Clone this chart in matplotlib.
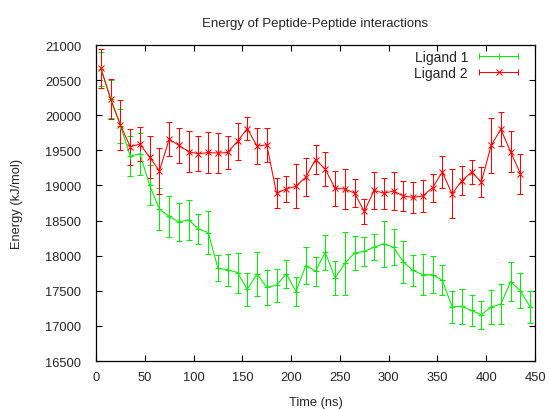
import numpy as np
import matplotlib
matplotlib.use("Agg")
import matplotlib.pyplot as plt
from matplotlib.lines import Line2D
from matplotlib.legend_handler import HandlerBase

plt.rcParams['font.family'] = ['Liberation Sans', 'DejaVu Sans']
plt.rcParams['text.color'] = '#262626'
plt.rcParams['axes.labelcolor'] = '#262626'
plt.rcParams['xtick.labelcolor'] = '#262626'
plt.rcParams['ytick.labelcolor'] = '#262626'

# time in ns
t1 = np.arange(5, 450, 10)   # Ligand 1: 5 .. 445
t2 = np.arange(5, 440, 10)   # Ligand 2: 5 .. 435

lig1 = [20660, 20230, 19850, 19420, 19450, 19000, 18660, 18560, 18480, 18510,
        18380, 18330, 17820, 17800, 17760, 17520, 17740, 17550, 17580, 17740,
        17490, 17860, 17780, 18050, 17680, 17890, 18040, 18060, 18120, 18170,
        18120, 17910, 17790, 17730, 17730, 17650, 17270, 17280, 17220, 17160,
        17270, 17310, 17630, 17500, 17270]
err1 = [240, 270, 240, 280, 300, 285, 300, 290, 270, 290,
        215, 300, 185, 225, 285, 230, 315, 250, 235, 200,
        210, 270, 205, 250, 240, 450, 240, 205, 185, 325,
        255, 295, 215, 290, 260, 215, 230, 250, 225, 200,
        240, 280, 280, 250, 230]

lig2 = [20670, 20230, 19860, 19550, 19590, 19400, 19210, 19660, 19570, 19480,
        19450, 19470, 19460, 19470, 19630, 19810, 19560, 19580, 18890, 18950,
        18990, 19120, 19370, 19230, 18960, 18950, 18890, 18630, 18930, 18890,
        18920, 18850, 18830, 18850, 18970, 19190, 18880, 19070, 19190, 19050,
        19570, 19800, 19480, 19170]
err2 = [280, 290, 360, 255, 240, 300, 330, 245, 255, 295,
        250, 290, 285, 240, 260, 165, 260, 240, 215, 185,
        310, 270, 210, 240, 250, 280, 200, 180, 265, 220,
        270, 215, 225, 230, 200, 225, 350, 210, 170, 220,
        390, 240, 290, 285]

LW = 0.75


class HandlerErrLine(HandlerBase):
    """horizontal legend sample with end caps and a marker in the middle"""
    def __init__(self, color, marker):
        super().__init__()
        self.color = color
        self.marker = marker

    def create_artists(self, legend, orig_handle, xdescent, ydescent,
                       width, height, fontsize, trans):
        y = height / 2 - ydescent
        x0, x1 = -xdescent, -xdescent + width
        line = Line2D([x0, x1], [y, y], color=self.color, lw=LW)
        caps = Line2D([x0, x1], [y, y], ls='none', marker='|', ms=5,
                      mew=LW, color=self.color)
        mid = Line2D([(x0 + x1) / 2], [y], ls='none', marker=self.marker,
                     ms=4, mew=LW, color=self.color)
        for a in (line, caps, mid):
            a.set_transform(trans)
        return [line, caps, mid]


fig = plt.figure(figsize=(5.49, 4.10), dpi=100)
ax = fig.add_axes([0.175, 0.117, 0.7995, 0.7707])

c1 = ax.errorbar(t1, lig1, yerr=err1, color='#00ee00', lw=LW, elinewidth=LW,
                 capsize=2.5, capthick=LW, marker='+', ms=4, mew=LW,
                 label='Ligand 1')
c2 = ax.errorbar(t2, lig2, yerr=err2, color='#ff0000', lw=LW, elinewidth=LW,
                 capsize=2.5, capthick=LW, marker='x', ms=4, mew=LW,
                 label='Ligand 2')

ax.set_xlim(0, 450)
ax.set_ylim(16500, 21000)
ax.set_xticks(np.arange(0, 451, 50))
ax.set_yticks(np.arange(16500, 21001, 500))
ax.tick_params(direction='in', top=True, right=True, labelsize=9.3,
               length=4, width=0.8)
ax.tick_params(axis='x', pad=7.5)
ax.tick_params(axis='y', pad=10.5)
for s in ax.spines.values():
    s.set_linewidth(0.9)

ax.set_xlabel('Time (ns)', fontsize=9.3, labelpad=9)
ax.set_ylabel('Energy (kJ/mol)', fontsize=9.3, labelpad=16)
ax.set_title('Energy of Peptide-Peptide interactions', fontsize=9.5, pad=14)

ax.legend(handles=[c1, c2], labels=['Ligand 1', 'Ligand 2'],
          handler_map={c1: HandlerErrLine('#00ee00', '+'),
                       c2: HandlerErrLine('#ff0000', 'x')},
          loc='upper right', bbox_to_anchor=(0.9435, 0.876),
          bbox_transform=fig.transFigure, frameon=False, markerfirst=False,
          fontsize=10, handlelength=2.8, handletextpad=0.8, borderpad=0,
          borderaxespad=0, labelspacing=0.15)

fig.savefig('out.png', dpi=100)
